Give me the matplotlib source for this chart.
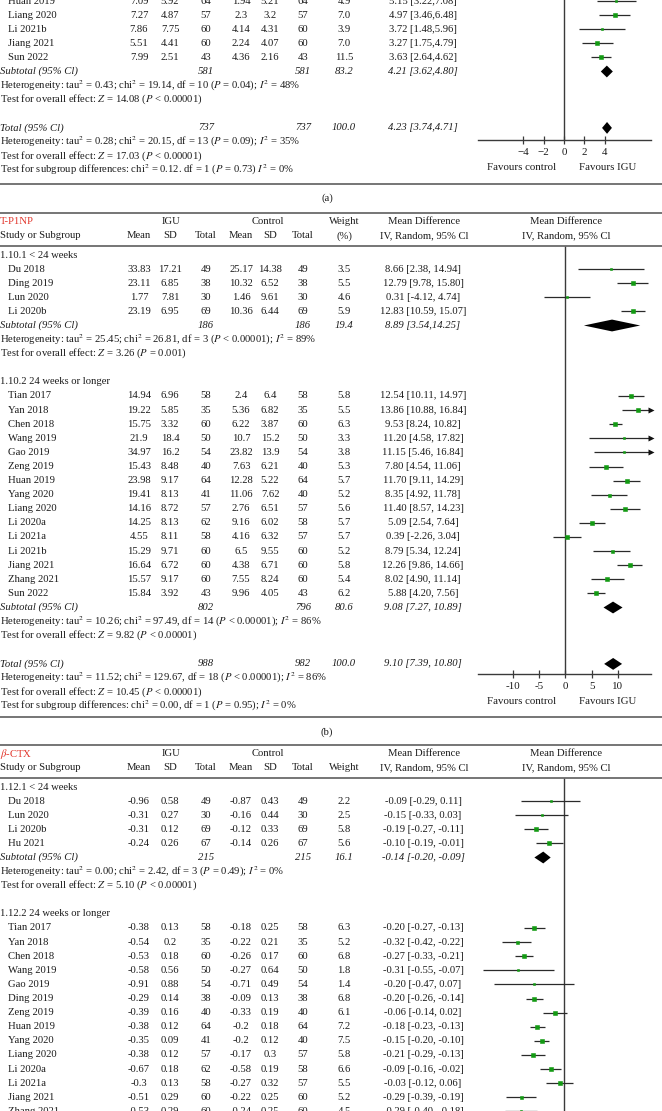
import matplotlib
matplotlib.use("Agg")
import matplotlib.pyplot as plt
from matplotlib.lines import Line2D

plt.rcParams['font.family'] = ['Liberation Serif', 'DejaVu Serif']
plt.rcParams['mathtext.fontset'] = 'stix'

W, H = 662, 1111
DY = 14.1          # row pitch in pixels
FS = 7.65
INK = '#1c1c1c'
RED = '#e2352b'
GREEN = '#139a13'

# ---------------- panel (a): only the lower part is visible ----------------
a_names = ["Huan 2019", "Liang 2020", "Li 2021b", "Jiang 2021", "Sun 2022"]
a_igu_mean = [7.09, 7.27, 7.86, 5.51, 7.99]
a_igu_sd = [5.92, 4.87, 7.75, 4.41, 2.51]
a_igu_n = [64, 57, 60, 60, 43]
a_ctl_mean = [1.94, 2.3, 4.14, 2.24, 4.36]
a_ctl_sd = [5.21, 3.2, 4.31, 4.07, 2.16]
a_ctl_n = [64, 57, 60, 60, 43]
a_weight = [4.9, 7.0, 3.9, 7.0, 11.5]
a_md = [5.15, 4.97, 3.72, 3.27, 3.63]
a_lo = [3.22, 3.46, 1.48, 1.75, 2.64]
a_hi = [7.08, 6.48, 5.96, 4.79, 4.62]
a_sub = [581, 581, 83.2, 4.21, 3.62, 4.80]
a_tot = [737, 737, 100.0, 4.23, 3.74, 4.71]
a_sub_notes = [r"Heterogeneity: tau$^2$ = 0.43; chi$^2$ = 19.14, df = 10 ($P$ = 0.04); $I^2$ = 48%",
               r"Test for overall effect: $Z$ = 14.08 ($P$ < 0.00001)"]
a_tot_notes = [r"Heterogeneity: tau$^2$ = 0.28; chi$^2$ = 20.15, df = 13 ($P$ = 0.09); $I^2$ = 35%",
               r"Test for overall effect: $Z$ = 17.03 ($P$ < 0.00001)",
               r"Test for subgroup differences: chi$^2$ = 0.12. df = 1 ($P$ = 0.73) $I^2$ = 0%"]
a_ticks = [-4, -2, 0, 2, 4]
a_ticklabels = ["\u22124", "\u22122", "0", "2", "4"]

# ---------------- panel (b): T-P1NP ----------------
b1_names = ["Du 2018", "Ding 2019", "Lun 2020", "Li 2020b"]
b1_igu_mean = [33.83, 23.11, 1.77, 23.19]
b1_igu_sd = [17.21, 6.85, 7.81, 6.95]
b1_igu_n = [49, 38, 30, 69]
b1_ctl_mean = [25.17, 10.32, 1.46, 10.36]
b1_ctl_sd = [14.38, 6.52, 9.61, 6.44]
b1_ctl_n = [49, 38, 30, 69]
b1_weight = [3.5, 5.5, 4.6, 5.9]
b1_md = [8.66, 12.79, 0.31, 12.83]
b1_lo = [2.38, 9.78, -4.12, 10.59]
b1_hi = [14.94, 15.80, 4.74, 15.07]
b1_sub = [186, 186, 19.4, 8.89, 3.54, 14.25]
b1_notes = [r"Heterogeneity: tau$^2$ = 25.45; chi$^2$ = 26.81, df = 3 ($P$ < 0.00001); $I^2$ = 89%",
            r"Test for overall effect: $Z$ = 3.26 ($P$ = 0.001)"]

b2_names = ["Tian 2017", "Yan 2018", "Chen 2018", "Wang 2019", "Gao 2019", "Zeng 2019",
            "Huan 2019", "Yang 2020", "Liang 2020", "Li 2020a", "Li 2021a", "Li 2021b",
            "Jiang 2021", "Zhang 2021", "Sun 2022"]
b2_igu_mean = [14.94, 19.22, 15.75, 21.9, 34.97, 15.43, 23.98, 19.41, 14.16, 14.25, 4.55, 15.29, 16.64, 15.57, 15.84]
b2_igu_sd = [6.96, 5.85, 3.32, 18.4, 16.2, 8.48, 9.17, 8.13, 8.72, 8.13, 8.11, 9.71, 6.72, 9.17, 3.92]
b2_igu_n = [58, 35, 60, 50, 54, 40, 64, 41, 57, 62, 58, 60, 60, 60, 43]
b2_ctl_mean = [2.4, 5.36, 6.22, 10.7, 23.82, 7.63, 12.28, 11.06, 2.76, 9.16, 4.16, 6.5, 4.38, 7.55, 9.96]
b2_ctl_sd = [6.4, 6.82, 3.87, 15.2, 13.9, 6.21, 5.22, 7.62, 6.51, 6.02, 6.32, 9.55, 6.71, 8.24, 4.05]
b2_ctl_n = [58, 35, 60, 50, 54, 40, 64, 40, 57, 58, 57, 60, 60, 60, 43]
b2_weight = [5.8, 5.5, 6.3, 3.3, 3.8, 5.3, 5.7, 5.2, 5.6, 5.7, 5.7, 5.2, 5.8, 5.4, 6.2]
b2_md = [12.54, 13.86, 9.53, 11.20, 11.15, 7.80, 11.70, 8.35, 11.40, 5.09, 0.39, 8.79, 12.26, 8.02, 5.88]
b2_lo = [10.11, 10.88, 8.24, 4.58, 5.46, 4.54, 9.11, 4.92, 8.57, 2.54, -2.26, 5.34, 9.86, 4.90, 4.20]
b2_hi = [14.97, 16.84, 10.82, 17.82, 16.84, 11.06, 14.29, 11.78, 14.23, 7.64, 3.04, 12.24, 14.66, 11.14, 7.56]
b2_sub = [802, 796, 80.6, 9.08, 7.27, 10.89]
b2_notes = [r"Heterogeneity: tau$^2$ = 10.26; chi$^2$ = 97.49, df = 14 ($P$ < 0.00001); $I^2$ = 86%",
            r"Test for overall effect: $Z$ = 9.82 ($P$ < 0.00001)"]
b_tot = [988, 982, 100.0, 9.10, 7.39, 10.80]
b_tot_notes = [r"Heterogeneity: tau$^2$ = 11.52; chi$^2$ = 129.67, df = 18 ($P$ < 0.00001); $I^2$ = 86%",
               r"Test for overall effect: $Z$ = 10.45 ($P$ < 0.00001)",
               r"Test for subgroup differences: chi$^2$ = 0.00, df = 1 ($P$ = 0.95); $I^2$ = 0%"]
b_ticks = [-10, -5, 0, 5, 10]
b_ticklabels = ["-10", "-5", "0", "5", "10"]

# ---------------- panel (c): beta-CTX (cut at the bottom) ----------------
c1_names = ["Du 2018", "Lun 2020", "Li 2020b", "Hu 2021"]
c1_igu_mean = [-0.96, -0.31, -0.31, -0.24]
c1_igu_sd = [0.58, 0.27, 0.12, 0.26]
c1_igu_n = [49, 30, 69, 67]
c1_ctl_mean = [-0.87, -0.16, -0.12, -0.14]
c1_ctl_sd = [0.43, 0.44, 0.33, 0.26]
c1_ctl_n = [49, 30, 69, 67]
c1_weight = [2.2, 2.5, 5.8, 5.6]
c1_md = [-0.09, -0.15, -0.19, -0.10]
c1_lo = [-0.29, -0.33, -0.27, -0.19]
c1_hi = [0.11, 0.03, -0.11, -0.01]
c1_sub = [215, 215, 16.1, -0.14, -0.20, -0.09]
c1_notes = [r"Heterogeneity: tau$^2$ = 0.00; chi$^2$ = 2.42, df = 3 ($P$ = 0.49); $I^2$ = 0%",
            r"Test for overall effect: $Z$ = 5.10 ($P$ < 0.00001)"]

c2_names = ["Tian 2017", "Yan 2018", "Chen 2018", "Wang 2019", "Gao 2019", "Ding 2019",
            "Zeng 2019", "Huan 2019", "Yang 2020", "Liang 2020", "Li 2020a", "Li 2021a",
            "Jiang 2021", "Zhang 2021"]
c2_igu_mean = [-0.38, -0.54, -0.53, -0.58, -0.91, -0.29, -0.39, -0.38, -0.35, -0.38, -0.67, -0.3, -0.51, -0.53]
c2_igu_sd = [0.13, 0.2, 0.18, 0.56, 0.88, 0.14, 0.16, 0.12, 0.09, 0.12, 0.18, 0.13, 0.29, 0.29]
c2_igu_n = [58, 35, 60, 50, 54, 38, 40, 64, 41, 57, 62, 58, 60, 60]
c2_ctl_mean = [-0.18, -0.22, -0.26, -0.27, -0.71, -0.09, -0.33, -0.2, -0.2, -0.17, -0.58, -0.27, -0.22, -0.24]
c2_ctl_sd = [0.25, 0.21, 0.17, 0.64, 0.49, 0.13, 0.19, 0.18, 0.12, 0.3, 0.19, 0.32, 0.25, 0.25]
c2_ctl_n = [58, 35, 60, 50, 54, 38, 40, 64, 40, 57, 58, 57, 60, 60]
c2_weight = [6.3, 5.2, 6.8, 1.8, 1.4, 6.8, 6.1, 7.2, 7.5, 5.8, 6.6, 5.5, 5.2, 4.5]
c2_md = [-0.20, -0.32, -0.27, -0.31, -0.20, -0.20, -0.06, -0.18, -0.15, -0.21, -0.09, -0.03, -0.29, -0.29]
c2_lo = [-0.27, -0.42, -0.33, -0.55, -0.47, -0.26, -0.14, -0.23, -0.20, -0.29, -0.16, -0.12, -0.39, -0.40]
c2_hi = [-0.13, -0.22, -0.21, -0.07, 0.07, -0.14, 0.02, -0.13, -0.10, -0.13, -0.02, 0.06, -0.19, -0.18]

# ---------------- layout helpers ----------------
COLS = [139, 170, 206, 241, 270, 303]
WX, CIX, PLOTX = 344, 423, 566
X0, X1 = 478, 651

fig = plt.figure(figsize=(W / 100, H / 100), dpi=100)


def put(x, y, s, ha='center', **kw):
    kw.setdefault('color', INK)
    kw.setdefault('fontsize', FS)
    fig.text(x / W, 1 - y / H, s, ha=ha, va='center', **kw)


def hrule(y):
    fig.add_artist(Line2D([0, 1], [1 - y / H] * 2, transform=fig.transFigure,
                          color='#6a6a6a', lw=1.3))


def ci_text(md, lo, hi, sep):
    return f"{md:.2f} [{lo:.2f},{sep}{hi:.2f}]"


def study_rows(y0, r0, names, im, isd, inn, cm, csd, cn, wt, md, lo, hi, sep):
    for i, nm in enumerate(names):
        y = y0 + (r0 + i) * DY
        put(8, y, nm, ha='left')
        for x, v in zip(COLS, [im[i], isd[i], inn[i], cm[i], csd[i], cn[i]]):
            put(x, y, f"{v:g}")
        put(WX, y, f"{wt[i]:.1f}")
        put(CIX, y, ci_text(md[i], lo[i], hi[i], sep))


def summary_row(y0, r, label, vals, sep):
    y = y0 + r * DY
    put(0, y, label, ha='left', style='italic')
    put(COLS[2], y, f"{vals[0]}", style='italic')
    put(COLS[5], y, f"{vals[1]}", style='italic')
    put(WX, y, f"{vals[2]:.1f}", style='italic')
    put(CIX, y, ci_text(vals[3], vals[4], vals[5], sep), style='italic')


def notes(y0, r, lines):
    for k, s in enumerate(lines):
        put(0, y0 + (r + k) * DY, s, ha='left')


def header(y1, y2, title, weight_split):
    put(0, y1, title, ha='left', color=RED)
    put(171, y1, "IGU")
    put(268, y1, "Control")
    put(0, y2, "Study or Subgroup", ha='left')
    for x, s in zip(COLS, ["Mean", "SD", "Total", "Mean", "SD", "Total"]):
        put(x, y2, s)
    if weight_split:
        put(WX, y1, "Weight")
        put(WX, y2, "(%)")
    else:
        put(WX, y2, "Weight")
    for x in (CIX + 1, PLOTX):
        put(x, y1, "Mean Difference")
        put(x, y2, "IV, Random, 95% Cl")


def forest_axes(ytop, ybot, y0, xlim):
    ax = fig.add_axes([X0 / W, 1 - ybot / H, (X1 - X0) / W, (ybot - ytop) / H])
    ax.set_xlim(xlim)
    ax.set_ylim((ybot - y0) / DY, (ytop - y0) / DY)
    ax.patch.set_alpha(0)
    ax.axvline(0, color='#3a3a3a', lw=1.0, zorder=1)
    for s in ('top', 'right', 'left'):
        ax.spines[s].set_visible(False)
    ax.spines['bottom'].set_color('#3a3a3a')
    ax.spines['bottom'].set_linewidth(1.0)
    ax.set_yticks([])
    return ax


def plot_studies(ax, r0, md, lo, hi, wt):
    xa, xb = ax.get_xlim()
    for i in range(len(md)):
        r = r0 + i
        ax.plot([max(lo[i], xa), min(hi[i], xb)], [r, r], color='#2a2a2a', lw=0.9,
                solid_capstyle='butt', clip_on=False, zorder=2)
        if hi[i] > xb:
            ax.plot(xb, r, marker='>', color='#111', ms=4, mec='none', clip_on=False, zorder=3)
        ax.plot(md[i], r, marker='s', color=GREEN, mec=GREEN, mew=0.4,
                ms=1.9 + 0.05 * wt[i], zorder=4)


def plot_diamond(ax, r, vals, hh=0.42):
    md, lo, hi = vals[3], vals[4], vals[5]
    ax.fill([lo, md, hi, md], [r, r - hh, r, r + hh], color='black', lw=0, zorder=4)


def x_axis(ax, ticks, labels, yf):
    ax.set_xticks(ticks)
    ax.set_xticklabels(labels, fontsize=FS + 0.3, color=INK)
    ax.tick_params(axis='x', direction='inout', length=6, width=0.9, color='#3a3a3a', pad=3)
    put(522, yf, "Favours control", fontsize=FS + 0.2)
    put(608, yf, "Favours IGU", fontsize=FS + 0.2)


# ================= panel (a) =================
ya = 1
study_rows(ya, 0, a_names, a_igu_mean, a_igu_sd, a_igu_n, a_ctl_mean, a_ctl_sd, a_ctl_n,
           a_weight, a_md, a_lo, a_hi, "")
summary_row(ya, 5, "Subtotal (95% Cl)", a_sub, "")
notes(ya, 6, a_sub_notes)
summary_row(ya, 9, "Total (95% Cl)", a_tot, "")
notes(ya, 10, a_tot_notes)
axa = forest_axes(0, 140, ya, (-8.45, 8.55))
plot_studies(axa, 0, a_md, a_lo, a_hi, a_weight)
plot_diamond(axa, 5, a_sub)
plot_diamond(axa, 9, a_tot)
x_axis(axa, a_ticks, a_ticklabels, 168)

hrule(184)
put(327, 198, "(a)")
hrule(213)

# ================= panel (b) =================
header(222, 236, "T-P1NP", True)
hrule(245.5)
yb = 255
put(0, yb, "1.10.1 < 24 weeks", ha='left')
study_rows(yb, 1, b1_names, b1_igu_mean, b1_igu_sd, b1_igu_n, b1_ctl_mean, b1_ctl_sd, b1_ctl_n,
           b1_weight, b1_md, b1_lo, b1_hi, " ")
summary_row(yb, 5, "Subtotal (95% Cl)", b1_sub, "")
notes(yb, 6, b1_notes)
put(0, yb + 9 * DY, "1.10.2 24 weeks or longer", ha='left')
study_rows(yb, 10, b2_names, b2_igu_mean, b2_igu_sd, b2_igu_n, b2_ctl_mean, b2_ctl_sd, b2_ctl_n,
           b2_weight, b2_md, b2_lo, b2_hi, " ")
summary_row(yb, 25, "Subtotal (95% Cl)", b2_sub, " ")
notes(yb, 26, b2_notes)
summary_row(yb, 29, "Total (95% Cl)", b_tot, " ")
notes(yb, 30, b_tot_notes)
axb = forest_axes(246, 674, yb, (-16.6, 16.3))
plot_studies(axb, 1, b1_md, b1_lo, b1_hi, b1_weight)
plot_diamond(axb, 5, b1_sub)
plot_studies(axb, 10, b2_md, b2_lo, b2_hi, b2_weight)
plot_diamond(axb, 25, b2_sub)
plot_diamond(axb, 29, b_tot)
x_axis(axb, b_ticks, b_ticklabels, 701)

hrule(717)
put(327, 732, "(b)")
hrule(745)

# ================= panel (c) =================
header(754, 768, r"$\beta$-CTX", False)
hrule(777.5)
yc = 787
put(0, yc, "1.12.1 < 24 weeks", ha='left')
study_rows(yc, 1, c1_names, c1_igu_mean, c1_igu_sd, c1_igu_n, c1_ctl_mean, c1_ctl_sd, c1_ctl_n,
           c1_weight, c1_md, c1_lo, c1_hi, " ")
summary_row(yc, 5, "Subtotal (95% Cl)", c1_sub, " ")
notes(yc, 6, c1_notes)
put(0, yc + 9 * DY, "1.12.2 24 weeks or longer", ha='left')
study_rows(yc, 10, c2_names, c2_igu_mean, c2_igu_sd, c2_igu_n, c2_ctl_mean, c2_ctl_sd, c2_ctl_n,
           c2_weight, c2_md, c2_lo, c2_hi, " ")
axc = forest_axes(778, H, yc, (-0.581, 0.588))
axc.spines['bottom'].set_visible(False)
axc.set_xticks([])
plot_studies(axc, 1, c1_md, c1_lo, c1_hi, c1_weight)
plot_diamond(axc, 5, c1_sub)
plot_studies(axc, 10, c2_md, c2_lo, c2_hi, c2_weight)

fig.savefig("out.png", dpi=100)
